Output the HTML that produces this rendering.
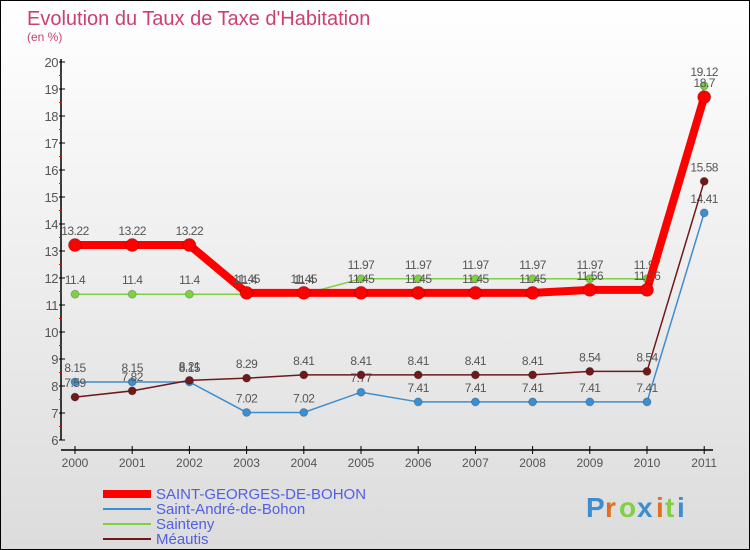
<!DOCTYPE html>
<html><head><meta charset="utf-8"><style>
body{margin:0}
#c{width:748px;height:548px;border:1px solid #000;background:linear-gradient(#fff,#dcdcdc);position:relative;font-family:"Liberation Sans",sans-serif;overflow:hidden}
</style></head><body>
<div id="c">
<svg id="s" width="748" height="548"></svg>
</div>
<script>
const years=["2000","2001","2002","2003","2004","2005","2006","2007","2008","2009","2010","2011"];
const yTicks=[6,7,8,9,10,11,12,13,14,15,16,17,18,19,20];
const sgb=[13.22,13.22,13.22,11.45,11.45,11.45,11.45,11.45,11.45,11.56,11.56,18.7];
const sab=[8.15,8.15,8.15,7.02,7.02,7.77,7.41,7.41,7.41,7.41,7.41,14.41];
const sai=[11.4,11.4,11.4,11.4,11.4,11.97,11.97,11.97,11.97,11.97,11.97,19.12];
const mea=[7.59,7.82,8.21,8.29,8.41,8.41,8.41,8.41,8.41,8.54,8.54,15.58];
const names=["SAINT-GEORGES-DE-BOHON","Saint-André-de-Bohon","Sainteny","Méautis"];
const NS="http://www.w3.org/2000/svg",s=document.getElementById('s');
const X=i=>74+i*57.2, Y=v=>439-(v-6)*27;
function el(t,a,p){const e=document.createElementNS(NS,t);for(const k in a)e.setAttribute(k,a[k]);(p||s).appendChild(e);return e;}
function tx(x,y,str,a){const e=el('text',Object.assign({x:x,y:y},a));e.textContent=str;return e;}
let t=tx(26,24,"Evolution du Taux de Taxe d'Habitation",{fill:"#cc4070","font-size":"20"});

t=tx(26,40,"(en %)",{fill:"#cc4070","font-size":"12"});

let a=el('line',{x1:60,y1:58,x2:60,y2:439,stroke:"#000","stroke-width":1.5});

a=el('line',{x1:60,y1:449,x2:712,y2:449,stroke:"#000","stroke-width":1.5});

yTicks.forEach(v=>{el('line',{x1:58,y1:Y(v),x2:64,y2:Y(v),stroke:"#000"});
 if(v<20)el('line',{x1:58,y1:Y(v+0.5),x2:61,y2:Y(v+0.5),stroke:"red"});
 const l=tx(57,Y(v)+5,String(v),{fill:"#555","font-size":"13","text-anchor":"end","letter-spacing":"-0.5"});
 });
years.forEach((y,i)=>{el('line',{x1:X(i),y1:445,x2:X(i),y2:453,stroke:"#000"});
 const l=tx(X(i),466,y,{fill:"#555","font-size":"12","text-anchor":"middle"});
 });
function series(d,col,w,r,name){
 const g=el('g',{});
 el('polyline',{points:d.map((v,i)=>X(i)+','+Y(v)).join(' '),fill:"none",stroke:col,"stroke-width":w},g);
 d.forEach((v,i)=>{const c=el('circle',{cx:X(i),cy:Y(v),r:r,fill:col,stroke:"#0003"},g);
  
  const l=tx(X(i),Y(v)-10,String(v),{fill:"#555","font-size":"12","text-anchor":"middle","letter-spacing":"-0.5"},g);
  });
}
series(sab,"#3d8ed0",1.5,4,"series-saint-andre");
series(mea,"#6e1a1a",1.5,4,"series-meautis");
series(sai,"#7fd043",1.5,4,"series-sainteny");
series(sgb,"#f00",8,6.5,"series-saint-georges");
const lc=["#f00","#3d8ed0","#7fd043","#6e1a1a"],lw=[8,2,2,2];
names.forEach((n,i)=>{const g=el('g',{});
 el('line',{x1:102,y1:493+i*15,x2:150,y2:493+i*15,stroke:lc[i],"stroke-width":lw[i]},g);
 tx(155,498+i*15,n,{fill:"#5060e0","font-size":"15"},g);});
const lg=el('g',{});
const lx=[585,604,618,636,655,664,676];
[["P","#3d8ed0"],["r","#e07020"],["o","#7fd043"],["x","#3d8ed0"],["i","#e07020"],["t","#7fd043"],["i","#3d8ed0"]].forEach((c,i)=>
 tx(lx[i],516,c[0],{fill:c[1],"font-size":"28","font-weight":"bold"},lg));
</script>
</body></html>
